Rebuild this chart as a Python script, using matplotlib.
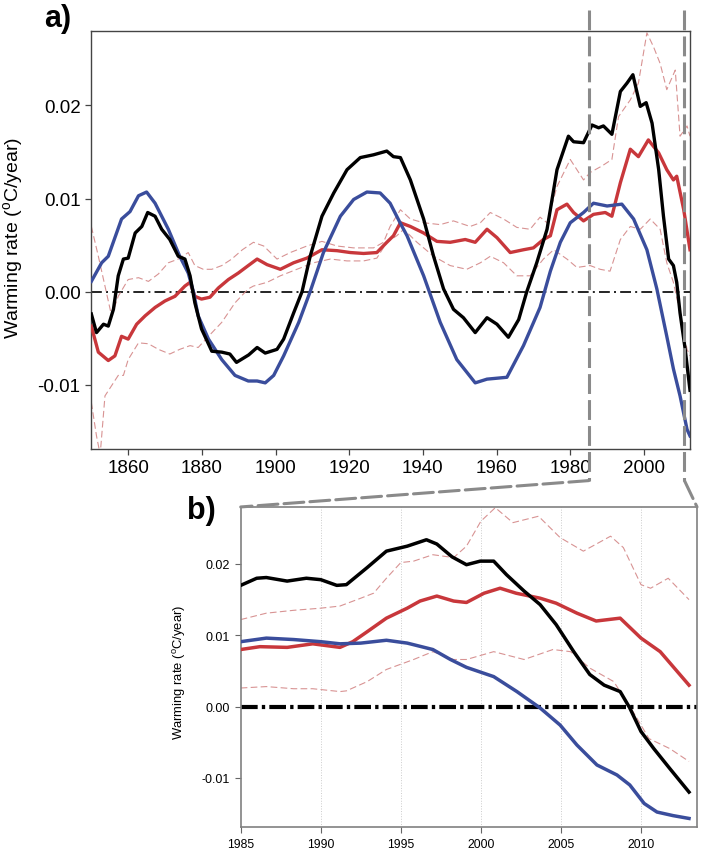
import matplotlib

matplotlib.use("Agg")
import matplotlib.pyplot as plt  # noqa: E402
from matplotlib.patches import ConnectionPatch  # noqa: E402
from matplotlib.ticker import FuncFormatter  # noqa: E402

plt.rcParams["font.family"] = ["Liberation Sans", "DejaVu Sans"]
plt.rcParams["mathtext.fontset"] = "custom"
plt.rcParams["mathtext.rm"] = "Liberation Sans"
plt.rcParams["axes.unicode_minus"] = False

# ---- panel a: full record ----
black_a_yr = [1850, 1851.4, 1853.3, 1854.6, 1856, 1857.3, 1858.7, 1860, 1861.9, 1863.7, 1865.3, 1867.3,
              1869.1, 1871.3, 1873.6, 1875.4, 1876.8, 1878.1, 1879.9, 1882.7, 1885.4, 1887.6, 1889.4,
              1892.7, 1895, 1897.2, 1900.4, 1902.2, 1904.9, 1907.2, 1909.4, 1912.6, 1915.8, 1919.4,
              1923, 1926.6, 1930.2, 1932, 1933.9, 1936.6, 1940.2, 1942.9, 1945.6, 1948.3, 1951,
              1954.2, 1957.4, 1960.1, 1963.2, 1966, 1968.2, 1970.9, 1973.7, 1976.4, 1979.5, 1980.9,
              1983.6, 1985.9, 1987.7, 1989, 1991.3, 1993.6, 1995.4, 1997, 1999, 2000.6, 2002.2, 2004,
              2005.3, 2006.7, 2008, 2008.9, 2009.8, 2011.2, 2012.5]
black_a = [-0.0024, -0.0044, -0.0035, -0.0037, -0.0019, 0.0017, 0.0035, 0.0036, 0.0063, 0.0070, 0.0085,
           0.0081, 0.0067, 0.0056, 0.0038, 0.0035, 0.0017, -0.0012, -0.0040, -0.0064, -0.0065, -0.0067,
           -0.0076, -0.0068, -0.0060, -0.0066, -0.0062, -0.0051, -0.0023, 0.0000, 0.0038, 0.0081,
           0.0106, 0.0131, 0.0144, 0.0147, 0.0151, 0.0145, 0.0144, 0.0120, 0.0078, 0.0038, 0.0003,
           -0.0019, -0.0028, -0.0044, -0.0028, -0.0035, -0.0049, -0.0030, 0.0000, 0.0031, 0.0067,
           0.0131, 0.0167, 0.0161, 0.0160, 0.0179, 0.0176, 0.0178, 0.0169, 0.0215, 0.0224, 0.0233,
           0.0199, 0.0203, 0.0181, 0.0131, 0.0081, 0.0035, 0.0028, 0.0010, -0.0023, -0.0062, -0.0106]

blue_a_yr = [1850, 1852.8, 1854.6, 1858.2, 1860.5, 1862.8, 1865, 1867.3, 1870.9, 1874, 1876.3, 1877.7,
             1879, 1881.8, 1885.4, 1889, 1892.6, 1895, 1897.2, 1899.5, 1902.2, 1906.3, 1909.4, 1913,
             1917.6, 1921.2, 1924.8, 1928.4, 1931.1, 1933.8, 1935.7, 1940.2, 1944.7, 1949.2, 1954.2,
             1957.4, 1962.8, 1967.3, 1971.8, 1974.6, 1977.3, 1980, 1983.6, 1986.3, 1990, 1994, 1997.2,
             2000.8, 2003.5, 2006.2, 2008, 2009.8, 2011.7, 2012.5]
blue_a = [0.0011, 0.0031, 0.0038, 0.0078, 0.0086, 0.0103, 0.0107, 0.0095, 0.0067, 0.0038, 0.0020, 0.0000,
          -0.0026, -0.0051, -0.0073, -0.0090, -0.0096, -0.0096, -0.0098, -0.0090, -0.0069, -0.0033,
          0.0000, 0.0042, 0.0081, 0.0099, 0.0107, 0.0106, 0.0095, 0.0074, 0.0060, 0.0017, -0.0033,
          -0.0073, -0.0098, -0.0094, -0.0092, -0.0058, -0.0017, 0.0022, 0.0053, 0.0074, 0.0085,
          0.0095, 0.0092, 0.0094, 0.0078, 0.0045, 0.0003, -0.0048, -0.0083, -0.0112, -0.0148, -0.0155]

red_a_yr = [1850, 1851.9, 1854.6, 1856.4, 1858.2, 1860, 1862.3, 1864.6, 1867.3, 1870, 1872.7, 1875.4,
            1876.8, 1878.1, 1879.9, 1882.2, 1884.5, 1887.2, 1889.9, 1892.6, 1895, 1897.7, 1901.3,
            1904.9, 1908.5, 1912.6, 1916.7, 1920.3, 1923.9, 1927.5, 1930.2, 1932, 1933.9, 1936.6,
            1940.2, 1943.8, 1947.4, 1951.5, 1954.2, 1957.4, 1960.1, 1963.7, 1967.3, 1970, 1972.7,
            1974.6, 1976.4, 1979.1, 1980.9, 1983.6, 1986.3, 1989.5, 1991.3, 1993.6, 1996.3, 1998.5,
            2001.2, 2004, 2006.2, 2008, 2008.9, 2010.8, 2012.5]
red_a = [-0.0037, -0.0065, -0.0074, -0.0069, -0.0048, -0.0051, -0.0035, -0.0026, -0.0017, -0.0010,
         -0.0005, 0.0006, 0.0010, -0.0005, -0.0008, -0.0006, 0.0004, 0.0013, 0.0020, 0.0028, 0.0035,
         0.0029, 0.0024, 0.0031, 0.0036, 0.0045, 0.0044, 0.0042, 0.0041, 0.0042, 0.0053, 0.0060,
         0.0074, 0.0070, 0.0063, 0.0054, 0.0053, 0.0056, 0.0053, 0.0067, 0.0058, 0.0042, 0.0045,
         0.0047, 0.0056, 0.0060, 0.0088, 0.0094, 0.0085, 0.0076, 0.0083, 0.0085, 0.0081, 0.0117,
         0.0153, 0.0145, 0.0163, 0.0149, 0.0131, 0.0120, 0.0124, 0.0088, 0.0045]

upper_a_yr = [1850, 1851.9, 1853.7, 1855.5, 1857.3, 1860, 1862.8, 1865.5, 1868.2, 1870.9, 1873.6, 1876.3,
              1878.1, 1880.4, 1882.7, 1885.4, 1888.1, 1891, 1894, 1896.8, 1900.4, 1904, 1908.5, 1912.6,
              1916.7, 1921.2, 1926.6, 1929.3, 1931.1, 1933.9, 1936.6, 1940.2, 1944.7, 1948.3, 1952.8,
              1955.6, 1958.3, 1961.9, 1965.5, 1969.1, 1971.8, 1973.7, 1976.4, 1980, 1983.6, 1985.4,
              1988.6, 1991.3, 1993.1, 1996.3, 1998.5, 2000.8, 2002.6, 2004.4, 2006.2, 2008.5, 2009.8,
              2011.7, 2012.5]
upper_a = [0.0070, 0.0038, 0.0006, -0.0026, -0.0005, 0.0013, 0.0015, 0.0011, 0.0019, 0.0031, 0.0035,
           0.0042, 0.0028, 0.0024, 0.0024, 0.0028, 0.0035, 0.0045, 0.0053, 0.0049, 0.0035, 0.0042,
           0.0049, 0.0054, 0.0049, 0.0047, 0.0047, 0.0053, 0.0070, 0.0088, 0.0078, 0.0074, 0.0072,
           0.0076, 0.0070, 0.0074, 0.0085, 0.0078, 0.0069, 0.0067, 0.0080, 0.0074, 0.0113, 0.0142,
           0.0120, 0.0128, 0.0135, 0.0142, 0.0188, 0.0206, 0.0224, 0.0278, 0.0263, 0.0245, 0.0217,
           0.0238, 0.0167, 0.0178, 0.0167]

lower_a_yr = [1850, 1851.4, 1852.4, 1853.7, 1855.5, 1857.3, 1858.7, 1860, 1862.8, 1865.5, 1868.2, 1871.3,
              1874, 1876.8, 1879, 1881.8, 1885.4, 1889, 1892.6, 1894, 1897.7, 1901.3, 1905.8, 1910.3,
              1914.9, 1919.4, 1923.9, 1927.5, 1930.2, 1932.9, 1934.8, 1938.4, 1942.9, 1947.4, 1951.9,
              1955.6, 1958.3, 1961.9, 1965.5, 1969.1, 1972.7, 1975.5, 1979.1, 1981.8, 1985.4, 1988.1,
              1990.8, 1993.6, 1996.3, 1999, 2001.7, 2004.4, 2006.2, 2008, 2009.8, 2011.7, 2012.5]
lower_a = [-0.0119, -0.0155, -0.0175, -0.0112, -0.0101, -0.0090, -0.0090, -0.0073, -0.0055, -0.0056,
           -0.0062, -0.0067, -0.0062, -0.0058, -0.0060, -0.0048, -0.0033, -0.0012, 0.0003, 0.0006,
           0.0010, 0.0017, 0.0024, 0.0031, 0.0035, 0.0033, 0.0033, 0.0036, 0.0053, 0.0060, 0.0067,
           0.0053, 0.0038, 0.0028, 0.0024, 0.0031, 0.0038, 0.0031, 0.0017, 0.0017, 0.0035, 0.0045,
           0.0035, 0.0026, 0.0028, 0.0024, 0.0022, 0.0056, 0.0070, 0.0067, 0.0078, 0.0067, 0.0031,
           0.0010, -0.0023, -0.0062, -0.0069]

# ---- panel b: 1985-2013 detail ----
black_b_yr = [1985, 1986, 1986.6, 1987.9, 1989.1, 1990, 1991, 1991.6, 1992.9, 1994.1, 1995.4, 1996.6,
              1997.25, 1998.2, 1999.1, 1999.96, 2000.8, 2001.6, 2002.7, 2003.7, 2004.7, 2005.8, 2006.8,
              2007.7, 2008.7, 2009.3, 2010, 2010.8, 2011.8, 2013]
black_b = [0.0170, 0.0180, 0.0181, 0.0176, 0.0180, 0.0178, 0.0170, 0.0171, 0.0195, 0.0218, 0.0225, 0.0234,
           0.0228, 0.0210, 0.0199, 0.0204, 0.0204, 0.0185, 0.0162, 0.0143, 0.0115, 0.0077, 0.0045,
           0.0030, 0.0021, -0.0002, -0.0035, -0.0059, -0.0087, -0.0120]

red_b_yr = [1985, 1986.2, 1987.9, 1989.5, 1991.2, 1992, 1992.9, 1994.1, 1995.4, 1996.2, 1997.25, 1998.3,
            1999.1, 2000.2, 2001.2, 2002.2, 2003.7, 2004.7, 2006, 2007.2, 2008.7, 2010, 2011.2, 2013]
red_b = [0.0080, 0.0084, 0.0083, 0.0088, 0.0083, 0.0091, 0.0105, 0.0124, 0.0138, 0.0148, 0.0155, 0.0148,
         0.0146, 0.0159, 0.0166, 0.0159, 0.0152, 0.0145, 0.0131, 0.0120, 0.0124, 0.0096, 0.0077, 0.0030]

blue_b_yr = [1985, 1986.6, 1988.3, 1990, 1991.2, 1992.5, 1994.1, 1995.4, 1997, 1998.1, 1999.1, 2000.8,
             2002.25, 2003.7, 2004.95, 2006, 2007.25, 2008.5, 2009.3, 2010.2, 2011, 2012, 2013]
blue_b = [0.0091, 0.0096, 0.0094, 0.0091, 0.0088, 0.0089, 0.0093, 0.0089, 0.0080, 0.0066, 0.0055, 0.0042,
          0.0021, -0.0002, -0.0026, -0.0054, -0.0082, -0.0096, -0.0110, -0.0136, -0.0148, -0.0153, -0.0157]

upper_b_yr = [1985, 1986.6, 1988.3, 1990, 1991.2, 1992.5, 1993.3, 1994.1, 1995, 1995.8, 1997, 1998.3,
              1999.1, 2000, 2000.9, 2002, 2003.6, 2004.95, 2006.4, 2008.1, 2008.9, 2010, 2010.6, 2011.7,
              2013]
upper_b = [0.0122, 0.0131, 0.0135, 0.0138, 0.0141, 0.0152, 0.0159, 0.0180, 0.0202, 0.0204, 0.0213, 0.0209,
           0.0225, 0.0260, 0.0279, 0.0258, 0.0267, 0.0237, 0.0218, 0.0239, 0.0223, 0.0171, 0.0166, 0.0180,
           0.0150]

lower_b_yr = [1985, 1986.6, 1988.3, 1989.5, 1991.2, 1991.6, 1992.9, 1994.1, 1995.8, 1997, 1998.3, 1999.1,
              2000.8, 2002.7, 2004.5, 2005.6, 2006.8, 2008.3, 2009.5, 2010.5, 2011.8, 2013]
lower_b = [0.0026, 0.0028, 0.0025, 0.0025, 0.0021, 0.0022, 0.0035, 0.0052, 0.0066, 0.0077, 0.0066, 0.0066,
           0.0077, 0.0066, 0.0080, 0.0077, 0.0054, 0.0035, -0.0007, -0.0045, -0.0059, -0.0077]

a_xticks = [1860, 1880, 1900, 1920, 1940, 1960, 1980, 2000]
b_xticks = [1985, 1990, 1995, 2000, 2005, 2010]
yticks = [-0.01, 0.0, 0.01, 0.02]
zoom_from, zoom_to = 1985, 2011

BLACK = "#000000"
BLUE = "#3a4d9c"
RED = "#c8373b"
PINK = "#d89393"
GREY = "#8a8a8a"
YLAB = "Warming rate ($^{\\mathrm{o}}$C/year)"
YLIM = (-0.0169, 0.0280)
fmt = FuncFormatter(lambda v, _: f"{v:.2f}")

fig = plt.figure(figsize=(7.03, 8.53), dpi=100)
ax_a = fig.add_axes([0.1294, 0.4725, 0.8521, 0.4900])
ax_b = fig.add_axes([0.3424, 0.0293, 0.6491, 0.3752])

# panel a
ax_a.axhline(0, color=BLACK, lw=1.2, dashes=(6.5, 2.5, 1.2, 2.5), zorder=1)
ax_a.plot(upper_a_yr, upper_a, color=PINK, lw=0.8, dashes=(6, 3), zorder=2)
ax_a.plot(lower_a_yr, lower_a, color=PINK, lw=0.8, dashes=(6, 3), zorder=2)
ax_a.plot(red_a_yr, red_a, color=RED, lw=2.4, zorder=3, solid_joinstyle="round")
ax_a.plot(blue_a_yr, blue_a, color=BLUE, lw=2.4, zorder=4, solid_joinstyle="round")
ax_a.plot(black_a_yr, black_a, color=BLACK, lw=2.4, zorder=5, solid_joinstyle="round")
ax_a.set_xlim(1849.9, 2012.5)
ax_a.set_ylim(*YLIM)
ax_a.set_xticks(a_xticks)
ax_a.set_yticks(yticks)
ax_a.yaxis.set_major_formatter(fmt)
ax_a.tick_params(labelsize=13.5, length=4.5, width=0.9, pad=3, color="#444444")
for s in ax_a.spines.values():
    s.set_color("#444444")
    s.set_linewidth(1.0)

# panel b
for yr in b_xticks[1:]:
    ax_b.axvline(yr, color="#cccccc", lw=0.7, ls=":", zorder=0)
ax_b.axhline(0, color=BLACK, lw=3.0, dashes=(4, 1.0, 0.8, 1.0), zorder=1)
ax_b.plot(upper_b_yr, upper_b, color=PINK, lw=0.8, dashes=(6, 3), zorder=2)
ax_b.plot(lower_b_yr, lower_b, color=PINK, lw=0.8, dashes=(6, 3), zorder=2)
ax_b.plot(red_b_yr, red_b, color=RED, lw=2.5, zorder=3, solid_joinstyle="round")
ax_b.plot(blue_b_yr, blue_b, color=BLUE, lw=2.5, zorder=4, solid_joinstyle="round")
ax_b.plot(black_b_yr, black_b, color=BLACK, lw=2.5, zorder=5, solid_joinstyle="round")
ax_b.set_xlim(1985, 2013.5)
ax_b.set_ylim(*YLIM)
ax_b.set_xticks(b_xticks)
ax_b.set_yticks(yticks)
ax_b.yaxis.set_major_formatter(fmt)
ax_b.tick_params(axis="y", labelsize=9, length=4, width=0.8, pad=4, color="#666666")
ax_b.tick_params(axis="x", labelsize=8.7, length=4, width=0.8, pad=4, color="#666666")
for s in ax_b.spines.values():
    s.set_color("#808080")
    s.set_linewidth(1.2)

# zoom guides
ylo_ext, yhi_ext = -0.0203, 0.0303
for yr in (zoom_from, zoom_to):
    ax_a.plot([yr, yr], [yhi_ext, ylo_ext], color=GREY, lw=2.2, dashes=(6.5, 2), clip_on=False, zorder=6)
for ya, xb in ((zoom_from, 1985), (zoom_to, 2013.5)):
    cp = ConnectionPatch(xyA=(ya, ylo_ext), coordsA=ax_a.transData, xyB=(xb, YLIM[1]), coordsB=ax_b.transData,
                         color=GREY, lw=2.2, linestyle=(0, (6.5, 2)))
    fig.add_artist(cp)

fig.text(14 / 703, 1 - 238 / 853, YLAB, rotation=90, ha="center", va="center", fontsize=14)
fig.text(180 / 703, 1 - 672 / 853, YLAB, rotation=90, ha="center", va="center", fontsize=9.4)
fig.text(44 / 703, 1 - 19 / 853, "a)", fontsize=22, fontweight="bold", ha="left", va="center")
fig.text(187 / 703, 1 - 511 / 853, "b)", fontsize=22, fontweight="bold", ha="left", va="center")

fig.savefig("out.png", dpi=100)
